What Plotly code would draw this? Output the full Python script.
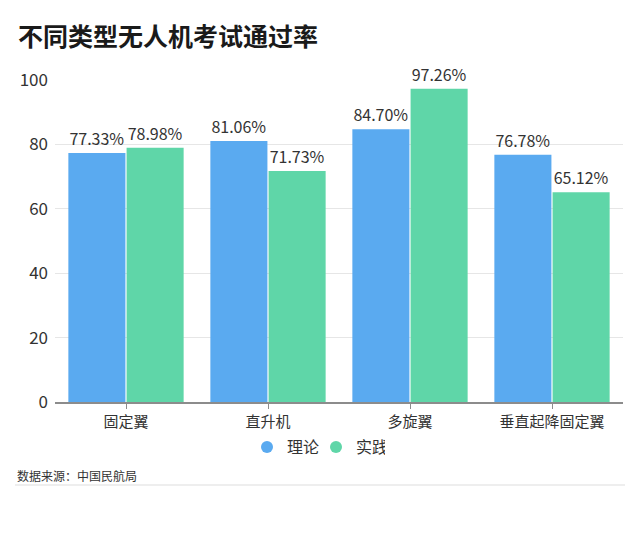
import plotly.graph_objects as go

categories = ["固定翼", "直升机", "多旋翼", "垂直起降固定翼"]
theory = [77.33, 81.06, 84.70, 76.78]
practice = [78.98, 71.73, 97.26, 65.12]
series_names = ["理论", "实践"]
y_ticks = [0, 20, 40, 60, 80, 100]

FONT = "Noto Sans CJK SC, Noto Sans, sans-serif"
BLUE = "#5aaaf0"
GREEN = "#5fd6a8"

fig = go.Figure()
for name, vals, col in [(series_names[0], theory, BLUE), (series_names[1], practice, GREEN)]:
    fig.add_trace(go.Bar(
        x=categories, y=vals, name=name, showlegend=False,
        marker=dict(color=col, line=dict(width=0)),
        text=[f"{v:.2f}%" for v in vals],
        textposition="outside",
        textfont=dict(size=16, color="#333333", family=FONT),
        cliponaxis=False,
    ))
# legend entries with circular markers
for name, col in [(series_names[0], BLUE), (series_names[1], GREEN)]:
    fig.add_trace(go.Scatter(
        x=[None], y=[None], mode="markers", name=name,
        marker=dict(symbol="circle", size=14, color=col),
    ))

W, H = 640, 544
L, R, T, B = 55, 17, 80, 142
pw, ph = W - L - R, H - T - B

def px(x):
    return (x - L) / pw

def py(y):
    return (H - B - y) / ph

fig.update_layout(
    width=W, height=H,
    margin=dict(l=L, r=R, t=T, b=B),
    paper_bgcolor="white", plot_bgcolor="white",
    font=dict(family=FONT, color="#333333"),
    barmode="group", bargap=0.18, bargroupgap=0.02,
    showlegend=True,
    legend=dict(orientation="h", x=px(247), xanchor="left", y=py(447), yanchor="middle",
                font=dict(size=16, color="#333333"), itemsizing="constant",
                traceorder="normal", itemwidth=30, tracegroupgap=0,
                entrywidth=24, entrywidthmode="pixels"),
    xaxis=dict(showline=True, linecolor="#8c8c8c", linewidth=1.5,
               ticks="outside", ticklen=5, tickcolor="#8c8c8c",
               tickfont=dict(size=15, color="#333333"), showgrid=False),
    yaxis=dict(range=[0, 100], tickvals=y_ticks, showgrid=True, gridcolor="#e6e6e6",
               gridwidth=1, zeroline=False, showline=False,
               tickfont=dict(size=17, color="#333333"), ticks="", ticklabelstandoff=6),
    annotations=[
        dict(text="<b>不同类型无人机考试通过率</b>", x=px(16), y=py(35), xref="paper", yref="paper",
             xanchor="left", yanchor="middle", showarrow=False,
             font=dict(size=25, color="#1a1a1a", family=FONT)),
        dict(text="数据来源：中国民航局", x=px(15), y=py(476), xref="paper", yref="paper",
             xanchor="left", yanchor="middle", showarrow=False,
             font=dict(size=12, color="#333333", family=FONT)),
    ],
    shapes=[
        dict(type="line", xref="paper", yref="paper", x0=px(15), x1=px(625),
             y0=py(485), y1=py(485), line=dict(color="#dddddd", width=1)),
    ],
)
fig.write_html("out.html")
